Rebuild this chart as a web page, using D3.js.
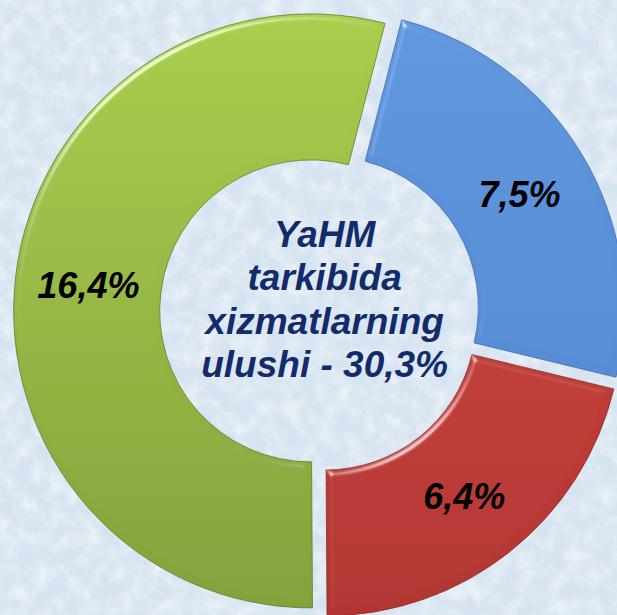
<!DOCTYPE html>
<html>
<head>
<meta charset="utf-8">
<script src="https://cdn.jsdelivr.net/npm/d3@7"></script>
<style>
  html, body { margin: 0; padding: 0; overflow: hidden; background: #dce7f2; }
</style>
</head>
<body>
<div id="chart"></div>
<script>
// data
const values = [7.5, 6.4, 16.4]
const labels = ['7,5%', '6,4%', '16,4%']
const colorsTop = ['#5f97de', '#d4443e', '#a9cd4c']
const colorsBottom = ['#5086d0', '#b23632', '#85a13b']
const edgeColors = ['#3d6aa8', '#8a2a27', '#5f742a']
const centerLines = ['YaHM', 'tarkibida', 'xizmatlarning', 'ulushi - 30,3%']

let width = 617
let height = 615
let cx = 319.6, cy = 312
let outerR = 297, innerR = 151, explode = 9
let start = 14.5 * Math.PI / 180

let svg = d3.select('#chart')
            .append('svg')
            .attr('width', width)
            .attr('height', height)

let defs = svg.append('defs')

// marble-ish background
let marble = defs.append('filter').attr('id', 'marble')
  .attr('x', 0).attr('y', 0).attr('width', '100%').attr('height', '100%')
marble.append('feTurbulence')
  .attr('type', 'fractalNoise').attr('baseFrequency', '0.06')
  .attr('numOctaves', 4).attr('seed', 7).attr('result', 'noise')
marble.append('feColorMatrix').attr('in', 'noise').attr('type', 'matrix')
  .attr('values', '0 0 0 0 1  0 0 0 0 1  0 0 0 0 1  2.2 0 0 0 -0.8')

svg.append('rect').attr('width', width).attr('height', height).attr('fill', '#d6e3f0')
svg.append('rect').attr('width', width).attr('height', height)
  .attr('filter', 'url(#marble)').attr('opacity', 0.5)

// bevel for the slices
let bevel = defs.append('filter').attr('id', 'bevel')
  .attr('x', '-5%').attr('y', '-5%').attr('width', '110%').attr('height', '110%')
bevel.append('feGaussianBlur').attr('in', 'SourceAlpha').attr('stdDeviation', 3).attr('result', 'blur')
let spec = bevel.append('feSpecularLighting').attr('in', 'blur')
  .attr('surfaceScale', 4).attr('specularConstant', 0.6).attr('specularExponent', 45)
  .attr('lighting-color', '#ffffff').attr('result', 'spec')
spec.append('feDistantLight').attr('azimuth', 235).attr('elevation', 35)
bevel.append('feComposite').attr('in', 'spec').attr('in2', 'SourceAlpha').attr('operator', 'in').attr('result', 'specIn')
bevel.append('feComposite').attr('in', 'SourceGraphic').attr('in2', 'specIn')
  .attr('operator', 'arithmetic').attr('k1', 0).attr('k2', 1).attr('k3', 1).attr('k4', 0)

values.forEach(function (v, i) {
  let lg = defs.append('linearGradient').attr('id', 'grad' + i)
    .attr('gradientUnits', 'userSpaceOnUse')
    .attr('x1', 0).attr('y1', -outerR).attr('x2', 0).attr('y2', outerR)
  lg.append('stop').attr('offset', '0%').attr('stop-color', colorsTop[i])
  lg.append('stop').attr('offset', '100%').attr('stop-color', colorsBottom[i])
})

let pie = d3.pie().sort(null).value(d => d).startAngle(start).endAngle(start + 2 * Math.PI)
let arc = d3.arc().innerRadius(innerR).outerRadius(outerR)

let g = svg.append('g').attr('transform', 'translate(' + cx + ',' + cy + ')')

let slices = g.selectAll('.slice')
  .data(pie(values))
  .enter()
  .append('g')
  .attr('class', 'slice')
  .attr('transform', function (d) {
    let a = (d.startAngle + d.endAngle) / 2
    return 'translate(' + (explode * Math.sin(a)) + ',' + (-explode * Math.cos(a)) + ')'
  })

slices.append('path')
  .attr('d', arc)
  .attr('fill', (d, i) => 'url(#grad' + i + ')')
  .attr('filter', 'url(#bevel)')

slices.append('path')
  .attr('d', arc)
  .attr('fill', 'none')
  .attr('stroke', (d, i) => edgeColors[i])
  .attr('stroke-width', 1)
  .attr('stroke-opacity', 0.75)

slices.append('text')
  .attr('transform', d => 'translate(' + arc.centroid(d) + ')')
  .attr('text-anchor', 'middle')
  .attr('dy', '0.4em')
  .attr('font-family', '"Liberation Sans", Arial, sans-serif')
  .attr('font-weight', 'bold')
  .attr('font-style', 'italic')
  .attr('font-size', 36)
  .attr('fill', '#000')
  .text((d, i) => labels[i])

// centre caption
let caption = g.append('text')
  .attr('text-anchor', 'middle')
  .attr('font-family', '"Liberation Sans", Arial, sans-serif')
  .attr('font-weight', 'bold')
  .attr('font-style', 'italic')
  .attr('font-size', 37)
  .attr('fill', '#122b6b')

caption.selectAll('tspan')
  .data(centerLines)
  .enter()
  .append('tspan')
  .attr('x', 5)
  .attr('y', (d, i) => -65 + i * 43.3)
  .text(d => d)
</script>
</body>
</html>
